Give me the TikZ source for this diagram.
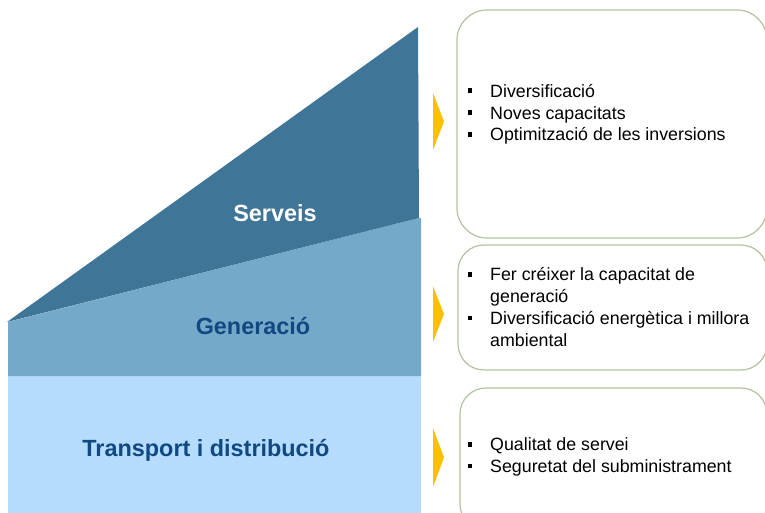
\documentclass[tikz,border=0pt]{standalone}
\usepackage{fontspec}
\setmainfont{Liberation Sans}
\usetikzlibrary{calc}
\definecolor{darkb}{HTML}{3F7597}
\definecolor{midb}{HTML}{75A9C9}
\definecolor{lightb}{HTML}{B5DBFD}
\definecolor{navy}{HTML}{104882}
\definecolor{gold}{HTML}{FFC000}
\definecolor{boxline}{HTML}{B3C2A0}
\newcommand\bul[1]{\fill ($(#1.base west)+(-20,-6.5)$) ++(-2.3,-2.3) rectangle ++(4.6,4.6);}
\begin{document}
\begin{tikzpicture}[x=1pt,y=-1pt,
  lbl/.style={inner sep=0, font=\fontsize{23.4}{27}\selectfont\bfseries},
  itm/.style={anchor=base west, inner sep=0, font=\fontsize{17.8}{21}\selectfont},
  box/.style={draw=boxline, line width=1.2pt, fill=white},
  chev/.style={fill=gold}]
\useasboundingbox (0,0) rectangle (765,513);
% layered area
\fill[lightb] (8,376) rectangle (421,514);
\fill[midb] (8,322) -- (419,218) -- (421,218) -- (421,376) -- (8,376) -- cycle;
\fill[darkb] (7,322) -- (418,27) -- (419,218) -- cycle;
\node[lbl, text=white] (serveis) at (275,213) {Serveis};
\node[lbl, text=navy] (gen) at (253,326) {Generació};
\node[lbl, text=navy] (trans) at (206,450) {Transport i distribució};
% chevrons
\fill[chev] (433,93) -- (444,121.5) -- (433,150) -- cycle;
\fill[chev] (433,286) -- (444,314) -- (433,342) -- cycle;
\fill[chev] (433,428) -- (444,457.5) -- (433,487) -- cycle;
% boxes
\draw[box, rounded corners=30pt] (457,10) rectangle (767,238);
\draw[box, rounded corners=26pt] (458,245) rectangle (767,370);
\draw[box, rounded corners=26pt] (460,388) rectangle (767,530);
% box 1
\node[itm] (a1) at (490,97.3) {Diversificació};
\node[itm] (a2) at (490,119.2) {Noves capacitats};
\node[itm] (a3) at (490,141) {Optimització de les inversions};
\bul{a1}\bul{a2}\bul{a3}
% box 2
\node[itm] (b1) at (490,280.7) {Fer créixer la capacitat de};
\node[itm] (b1c) at (490,302.3) {generació};
\node[itm] (b2) at (490,324.5) {Diversificació energètica i millora};
\node[itm] (b2c) at (490,346) {ambiental};
\bul{b1}\bul{b2}
% box 3
\node[itm] (c1) at (490,450.7) {Qualitat de servei};
\node[itm] (c2) at (490,472.3) {Seguretat del subministrament};
\bul{c1}\bul{c2}
\end{tikzpicture}
\end{document}
